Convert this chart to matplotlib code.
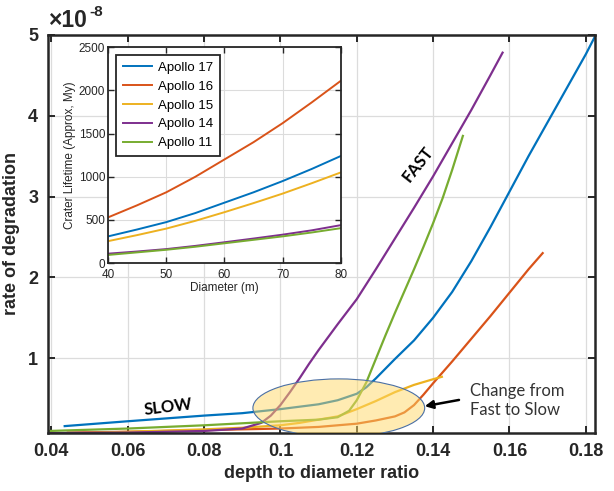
import matplotlib
matplotlib.use("Agg")
import matplotlib.pyplot as plt
from matplotlib.patches import Ellipse

plt.rcParams["font.family"] = ["Liberation Sans", "DejaVu Sans"]

# couleurs matlab
c17, c16, c15, c14, c11 = "#0072BD", "#D95319", "#EDB120", "#7E2F8E", "#77AC30"

# courbe principale (y en unites de 1e-8)
x17 = [0.0435, 0.06, 0.08, 0.09, 0.1, 0.11, 0.115, 0.12, 0.1225, 0.125, 0.1275, 0.13, 0.135, 0.14,
       0.145, 0.15, 0.155, 0.16, 0.165, 0.17, 0.175, 0.18, 0.1824]
y17 = [0.16, 0.22, 0.29, 0.32, 0.37, 0.43, 0.48, 0.56, 0.64, 0.75, 0.87, 0.99, 1.22, 1.5,
       1.82, 2.2, 2.62, 3.06, 3.5, 3.92, 4.34, 4.76, 4.98]

x16 = [0.0443, 0.06, 0.08, 0.1, 0.11, 0.12, 0.125, 0.13, 0.1325, 0.135, 0.1375, 0.14,
       0.145, 0.15, 0.155, 0.16, 0.165, 0.1687]
y16 = [0.08, 0.09, 0.11, 0.13, 0.15, 0.19, 0.23, 0.28, 0.33, 0.42, 0.55, 0.69,
       0.96, 1.24, 1.52, 1.81, 2.1, 2.3]

x15 = [0.0443, 0.06, 0.08, 0.09, 0.1, 0.105, 0.11, 0.115, 0.12, 0.125, 0.13, 0.135, 0.14, 0.1423]
y15 = [0.07, 0.09, 0.12, 0.14, 0.17, 0.2, 0.24, 0.28, 0.37, 0.47, 0.58, 0.67, 0.74, 0.77]

x14 = [0.039, 0.06, 0.08, 0.09, 0.095, 0.0975, 0.1, 0.1025, 0.105, 0.1075, 0.11, 0.115, 0.12,
       0.125, 0.13, 0.135, 0.14, 0.145, 0.15, 0.155, 0.1582]
y14 = [0.074, 0.08, 0.10, 0.13, 0.2, 0.29, 0.42, 0.58, 0.75, 0.93, 1.1, 1.42, 1.73,
       2.1, 2.48, 2.86, 3.25, 3.66, 4.07, 4.5, 4.78]

x11 = [0.0395, 0.06, 0.08, 0.1, 0.11, 0.115, 0.118, 0.12, 0.1225, 0.125, 0.1275, 0.13,
       0.1325, 0.135, 0.1375, 0.14, 0.1425, 0.145, 0.1478]
y11 = [0.1, 0.13, 0.17, 0.22, 0.24, 0.27, 0.35, 0.48, 0.7, 0.99, 1.28, 1.56,
       1.83, 2.1, 2.38, 2.67, 2.98, 3.33, 3.75]

# encart : duree de vie des crateres
diam = [40, 45, 50, 55, 60, 65, 70, 75, 80]
life17 = [310, 390, 475, 580, 700, 820, 950, 1090, 1240]
life16 = [530, 670, 820, 1000, 1200, 1400, 1620, 1860, 2110]
life15 = [255, 325, 400, 490, 590, 695, 805, 925, 1050]
life14 = [110, 135, 163, 200, 242, 285, 330, 380, 440]
life11 = [95, 125, 155, 190, 230, 270, 310, 355, 405]

xticks = [0.04, 0.06, 0.08, 0.1, 0.12, 0.14, 0.16, 0.18]
xlabels = ["0.04", "0.06", "0.08", "0.1", "0.12", "0.14", "0.16", "0.18"]
yticks = [1, 2, 3, 4, 5]

dark = "#262626"
fig = plt.figure(figsize=(6.14, 4.91), dpi=100)
ax = fig.add_axes([0.078, 0.118, 0.891, 0.811])

lw = 1.6
ax.plot(x17, y17, color=c17, lw=lw)
ax.plot(x16, y16, color=c16, lw=lw)
ax.plot(x15, y15, color=c15, lw=lw)
ax.plot(x14, y14, color=c14, lw=lw)
ax.plot(x11, y11, color=c11, lw=lw)

ax.set_xlim(0.0391, 0.1824)
ax.set_ylim(0.074, 5.0)
ax.set_xticks(xticks)
ax.set_xticklabels(xlabels)
ax.set_yticks(yticks)
ax.grid(True, color="#dcdcdc", lw=0.9)
ax.set_axisbelow(True)
ax.tick_params(direction="in", top=True, right=True, length=5, width=1.4,
               colors=dark, labelsize=13, pad=7)
for lab in ax.get_xticklabels() + ax.get_yticklabels():
    lab.set_fontweight("bold")
for s in ax.spines.values():
    s.set_linewidth(1.8)
    s.set_color(dark)
ax.set_xlabel("depth to diameter ratio", fontsize=13, fontweight="bold", color=dark, labelpad=4)
ax.set_ylabel("rate of degradation", fontsize=13, fontweight="bold", color=dark, labelpad=6)
fig.text(48 / 614, 0.946, "\u00d710", fontsize=16.5, fontweight="bold", color=dark,
         ha="left", va="baseline")
fig.text(89 / 614, 0.968, "-8", fontsize=11, fontweight="bold", color=dark,
         ha="left", va="baseline")

# ellipse transparente
ax.add_patch(Ellipse((0.1153, 0.384), 0.045, 0.72, facecolor="#FFD966", alpha=0.5,
                     edgecolor="none", zorder=5))
ax.add_patch(Ellipse((0.1153, 0.384), 0.045, 0.72, facecolor="none",
                     edgecolor="#4a6fa5", lw=0.8, zorder=6))

ax.text(0.0705, 0.40, "SLOW", fontsize=12, fontweight="bold", family="Lato",
        rotation=7, ha="center", va="center", color="black")
ax.text(0.136, 3.40, "FAST", fontsize=12, fontweight="bold", family="Lato",
        rotation=52, ha="center", va="center", color="black")
ax.text(0.1496, 0.48, "Change from\nFast to Slow", fontsize=12, family="Lato",
        ha="left", va="center", color="#333333", linespacing=1.25)
ax.annotate("", xy=(0.1371, 0.40), xytext=(0.1475, 0.49),
            arrowprops=dict(arrowstyle="-|>", color="black", lw=1.8, mutation_scale=12))

# encart
ins = fig.add_axes([0.176, 0.464, 0.379, 0.44])
ins.set_facecolor("white")
ins.plot(diam, life17, color=c17, lw=1.4, label="Apollo 17")
ins.plot(diam, life16, color=c16, lw=1.4, label="Apollo 16")
ins.plot(diam, life15, color=c15, lw=1.4, label="Apollo 15")
ins.plot(diam, life14, color=c14, lw=1.4, label="Apollo 14")
ins.plot(diam, life11, color=c11, lw=1.4, label="Apollo 11")
ins.set_xlim(40, 80)
ins.set_ylim(0, 2500)
ins.set_xticks([40, 50, 60, 70, 80])
ins.set_yticks([0, 500, 1000, 1500, 2000, 2500])
ins.grid(True, color="#dcdcdc", lw=0.8)
ins.tick_params(direction="in", top=True, right=True, length=4, width=1.0,
                colors=dark, labelsize=8.5, pad=2)
ins.tick_params(axis="x", pad=4)
for s in ins.spines.values():
    s.set_linewidth(1.3)
    s.set_color(dark)
ins.set_xlabel("Diameter (m)", fontsize=8.5, color=dark, labelpad=1)
ins.set_ylabel("Crater Lifetime (Approx, My)", fontsize=8.5, color=dark, labelpad=2)
leg = ins.legend(loc="upper left", fontsize=9.5, fancybox=False, framealpha=1,
                 edgecolor=dark, handlelength=2.2, handletextpad=0.5,
                 borderaxespad=0.6, labelspacing=0.5, borderpad=0.5)
leg.get_frame().set_linewidth(1.3)

fig.savefig("out.png", dpi=100)
